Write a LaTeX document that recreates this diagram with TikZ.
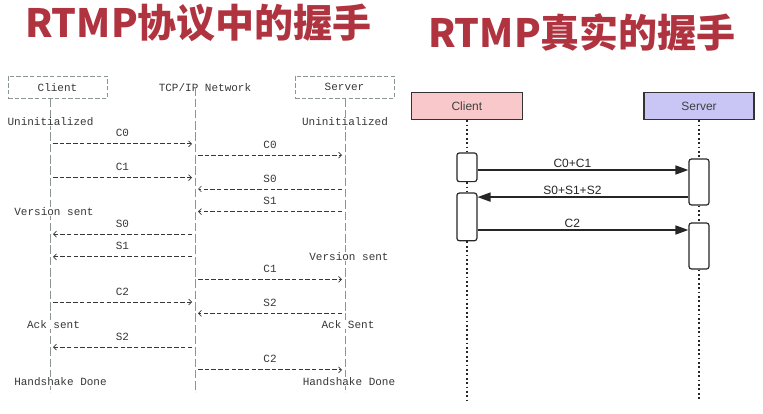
\documentclass[tikz,border=0pt]{standalone}
\usepackage{fontspec}
\setmainfont{Liberation Sans}
\setmonofont{Liberation Mono}
\newfontfamily\cjk{Noto Sans CJK SC}
\usetikzlibrary{arrows.meta}
\definecolor{titlered}{RGB}{176,52,64}
\definecolor{asciigray}{RGB}{55,55,55}
\definecolor{linegray}{RGB}{140,150,145}
\definecolor{clientpink}{RGB}{248,200,202}
\definecolor{serverblue}{RGB}{201,198,246}
\tikzset{
  title/.style={font=\cjk\bfseries\fontsize{39}{42}\selectfont, text=titlered, inner sep=0pt},
  mono/.style={font=\ttfamily\fontsize{11}{13}\selectfont, text=asciigray, inner sep=0.5pt},
  monofill/.style={mono, fill=white},
  asciibox/.style={draw=linegray, line width=0.7pt, dash pattern=on 4.5pt off 2.2pt, mono, minimum width=99pt, minimum height=22.6pt},
  lifeA/.style={draw=linegray, line width=0.8pt, dash pattern=on 8.5pt off 2.8pt},
  msgA/.style={draw=asciigray, line width=0.7pt, dash pattern=on 4.5pt off 2.2pt, -{Straight Barb[length=3pt,width=6pt]}},
  hbox/.style={draw=black!80, line width=1.3pt, font=\fontsize{12}{14}\selectfont, text=black!75, minimum height=27pt},
  act/.style={draw=black!85, line width=1.2pt, fill=white, rounded corners=2.5pt, minimum width=20pt, inner sep=0pt},
  lifeB/.style={draw=black!85, line width=1.6pt, dash pattern=on 1.8pt off 2.6pt},
  msgB/.style={draw=black!85, line width=1.6pt, -{Triangle[length=13pt,width=9pt]}},
  lblB/.style={font=\fontsize{12}{14}\selectfont, text=black!85, inner sep=2pt}
}
\begin{document}
\begin{tikzpicture}[x=1pt,y=-1pt]
\useasboundingbox (0,0) rectangle (763,414);
% titles
\node[title, anchor=base west] (t1) at (25,38) {RTMP协议中的握手};
\node[title, anchor=base west] (t2) at (428,48) {RTMP真实的握手};

% ---------------- left: protocol handshake (ASCII-style) ----------------
\begin{scope}[y=-11.3pt, yshift=-76pt]
\foreach \k in {0,...,29}{
  \coordinate (C\k) at (50,\k);
  \coordinate (N\k) at (195,\k);
  \coordinate (S\k) at (345,\k);
}
\node[asciibox] (cbox) at (57.5,1) {Client};
\node[asciibox] (sbox) at (344.5,1) {Server};
\node[mono] (net) at (205,1) {TCP/IP Network};
\draw[lifeA] (C2) -- (C28.4);
\draw[lifeA] (N1.6) -- (N28.4);
\draw[lifeA] (S2) -- (S28.4);

\node[monofill] (cu) at (50.5,4) {Uninitialized};
\node[monofill] (su) at (345,4) {Uninitialized};
\node[monofill] (cv) at (54,12) {Version sent};
\node[monofill] (sv) at (349,16) {Version sent};
\node[monofill] (ca) at (53.5,22) {Ack sent};
\node[monofill] (sa) at (348,22) {Ack Sent};
\node[monofill] (cd) at (60.5,27) {Handshake Done};
\node[monofill] (sd) at (349,27) {Handshake Done};

% messages client -> network
\draw[msgA] ([xshift=3pt]C6) -- node[mono, above=6pt] {C0} ([xshift=-3pt]N6);
\draw[msgA] ([xshift=3pt]C9) -- node[mono, above=6pt] {C1} ([xshift=-3pt]N9);
\draw[msgA] ([xshift=3pt]C20) -- node[mono, above=6pt] {C2} ([xshift=-3pt]N20);
% network -> server
\draw[msgA] ([xshift=3pt]N7) -- node[mono, above=6pt] {C0} ([xshift=-3pt]S7);
\draw[msgA] ([xshift=3pt]N18) -- node[mono, above=6pt] {C1} ([xshift=-3pt]S18);
\draw[msgA] ([xshift=3pt]N26) -- node[mono, above=6pt] {C2} ([xshift=-3pt]S26);
% server -> network
\draw[msgA] ([xshift=-3pt]S10) -- node[mono, above=6pt] {S0} ([xshift=3pt]N10);
\draw[msgA] ([xshift=-3pt]S12) -- node[mono, above=6pt] {S1} ([xshift=3pt]N12);
\draw[msgA] ([xshift=-3pt]S21) -- node[mono, above=6pt] {S2} ([xshift=3pt]N21);
% network -> client
\draw[msgA] ([xshift=-3pt]N14) -- node[mono, above=6pt] {S0} ([xshift=3pt]C14);
\draw[msgA] ([xshift=-3pt]N16) -- node[mono, above=6pt] {S1} ([xshift=3pt]C16);
\draw[msgA] ([xshift=-3pt]N24) -- node[mono, above=6pt] {S2} ([xshift=3pt]C24);
\end{scope}

% ---------------- right: real handshake ----------------
\node[hbox, fill=clientpink, minimum width=111pt] (cl) at (466.9,106) {Client};
\node[hbox, fill=serverblue, minimum width=110pt] (sr) at (699,106) {Server};
\node[act, minimum height=28.7pt] (ca1) at (466.9,167.3) {};
\node[act, minimum height=47.7pt] (ca2) at (466.9,216.9) {};
\node[act, minimum height=46pt] (sa1) at (699,182) {};
\node[act, minimum height=46pt] (sa2) at (699,246) {};
\coordinate (cend) at (466.9,401);
\coordinate (send) at (699,401);
\draw[lifeB] (cl.south) -- (ca1.north);
\draw[lifeB] (ca1.south) -- (ca2.north);
\draw[lifeB] (ca2.south) -- (cend);
\draw[lifeB] (sr.south) -- (sa1.north);
\draw[lifeB] (sa1.south) -- (sa2.north);
\draw[lifeB] (sa2.south) -- (send);

\draw[msgB] ([yshift=-2.7pt]ca1.east) coordinate (m1) -- node[lblB, above, pos=0.45] {C0+C1} (m1 -| sa1.west);
\draw[msgB] ([yshift=-15.1pt]sa1.west) coordinate (m2) -- node[lblB, above, pos=0.55] {S0+S1+S2} (m2 -| ca2.east);
\draw[msgB] ([yshift=-13.1pt]ca2.east) coordinate (m3) -- node[lblB, above, pos=0.45] {C2} (m3 -| sa2.west);
\end{tikzpicture}
\end{document}
